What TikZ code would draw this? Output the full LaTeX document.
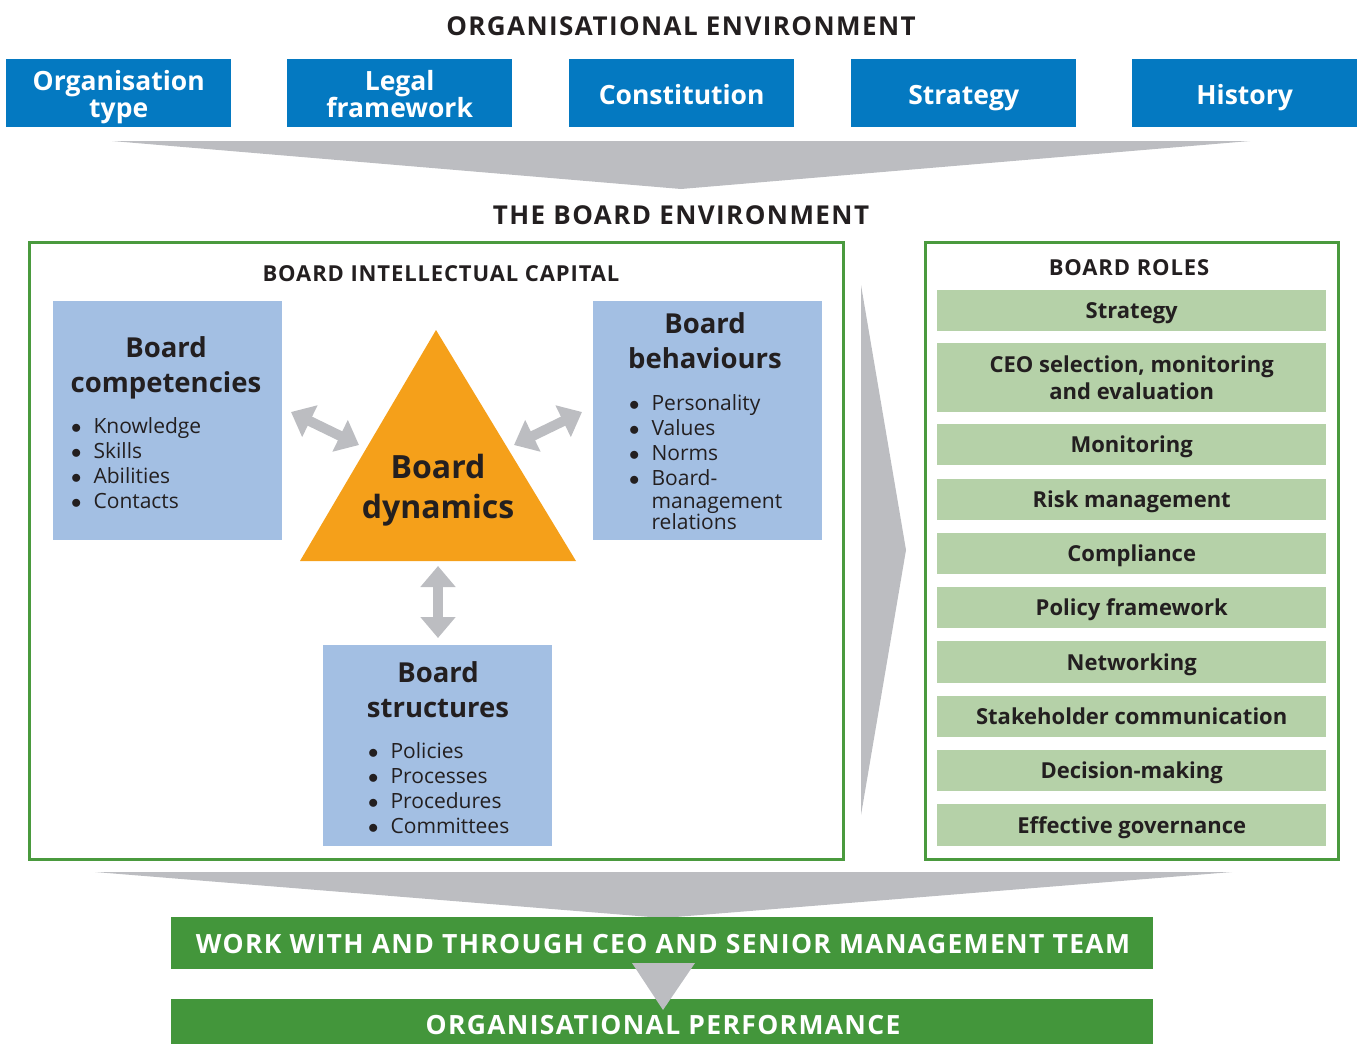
\documentclass[tikz,border=0pt]{standalone}
\usepackage{fontspec}
\setmainfont{Open Sans}
\usetikzlibrary{arrows.meta}
\definecolor{orgblue}{HTML}{0479C1}
\definecolor{lblue}{HTML}{A3BFE3}
\definecolor{bgreen}{HTML}{4A9A3E}
\definecolor{lgreen}{HTML}{B5D1A8}
\definecolor{dgreen}{HTML}{43963B}
\definecolor{agrey}{HTML}{BCBDC1}
\definecolor{dorange}{HTML}{F5A01A}
\definecolor{ink}{HTML}{231F20}
\tikzset{
  envtitle/.style={text=ink, font=\bfseries\fontsize{26}{28}\selectfont\addfontfeature{LetterSpace=5.5}, inner sep=0},
  subtitle/.style={text=ink, font=\bfseries\fontsize{22}{24}\selectfont\addfontfeature{LetterSpace=4}, inner sep=0},
  orgbox/.style={fill=orgblue, text=white, minimum width=225pt, minimum height=68pt, inner sep=0, text height=23pt, text depth=0pt, align=center, font=\bfseries\fontsize{26.5}{27}\selectfont, anchor=north west},
  twolines/.style={text height=49pt},
  capbox/.style={fill=lblue, anchor=north west, inner sep=0},
  captitle/.style={text=ink, font=\bfseries\fontsize{27.5}{35}\selectfont, align=center, inner sep=0},
  bullets/.style={text=ink, font=\fontsize{21}{25}\selectfont, align=left, inner sep=0, anchor=north west},
  rolebox/.style={fill=lgreen, text=ink, minimum width=389pt, inner sep=0, text height=18pt, text depth=1.5pt, align=center, font=\bfseries\fontsize{22}{27}\selectfont, anchor=north west},
  frame/.style={draw=bgreen, line width=3pt},
  bigarrow/.style={fill=agrey},
  dblarrow/.style={draw=agrey, line width=10pt, {Triangle[length=21pt,width=34pt]}-{Triangle[length=21pt,width=34pt]}},
  gbar/.style={fill=dgreen, inner sep=0, minimum width=982pt, anchor=north west},
  gbartext/.style={text=white, inner sep=0, font=\bfseries\fontsize{26.5}{28}\selectfont\addfontfeature{LetterSpace=5}},
}
\newcommand{\blist}[1]{\begin{tabular}{@{}l@{\hspace{12pt}}l@{}}#1\end{tabular}}
\newcommand{\bb}{$\bullet$}
\begin{document}
\begin{tikzpicture}[x=1pt,y=-1pt]
\useasboundingbox (0,0) rectangle (1357,1044);
% top
\node[envtitle] (orgenv) at (681,26) {ORGANISATIONAL ENVIRONMENT};
\node[orgbox, twolines] (ot) at (6,59) {Organisation\\type};
\node[orgbox, twolines] (lf) at (287,59) {Legal\\framework};
\node[orgbox] (co) at (569,59) {Constitution};
\node[orgbox] (st) at (851,59) {Strategy};
\node[orgbox] (hi) at (1132,59) {History};
\fill[bigarrow] (112,141) -- (1250,141) -- (681,189) -- cycle;
\node[envtitle] (boardenv) at (681,215) {THE BOARD ENVIRONMENT};
% left frame
\draw[frame] (29,242) rectangle (843,859);
\node[subtitle] (bic) at (441,274) {BOARD INTELLECTUAL CAPITAL};
% capital boxes
\node[capbox, minimum width=229pt, minimum height=239pt] (comp) at (53,301) {};
\node[captitle] (compt) at (166,368) {Board\\competencies};
\node[bullets] (compl) at (71,416) {\blist{\bb & Knowledge\\ \bb & Skills\\ \bb & Abilities\\ \bb & Contacts}};
\node[capbox, minimum width=229pt, minimum height=239pt] (beh) at (593,301) {};
\node[captitle] (beht) at (705,341) {Board\\behaviours};
\node[bullets] (behl) at (629,393) {\blist{\bb & Personality\\ \bb & Values\\ \bb & Norms\\ \bb & Board-\\[-2pt] & management\\[-4pt] & relations}};
\node[capbox, minimum width=229pt, minimum height=201pt] (str) at (323,645) {};
\node[captitle] (strt) at (438,690) {Board\\structures};
\node[bullets] (strl) at (368,741) {\blist{\bb & Policies\\ \bb & Processes\\ \bb & Procedures\\ \bb & Committees}};
% triangle
\fill[dorange] (436,330) -- (576,561) -- (300,561) -- cycle;
\node[captitle, font=\bfseries\fontsize{32}{40}\selectfont] (dyn) at (438,490) {Board\\dynamics};
% double arrows
\coordinate (la1) at (291,412);
\coordinate (la2) at (359,445);
\coordinate (ra1) at (514,445);
\coordinate (ra2) at (582,412);
\coordinate (va1) at (438,566);
\coordinate (va2) at (438,638);
\draw[dblarrow] (la1) -- (la2);
\draw[dblarrow] (ra1) -- (ra2);
\draw[dblarrow] (va1) -- (va2);
% right big arrow
\fill[bigarrow] (861,285) -- (906,550) -- (861,815) -- cycle;
% right frame
\draw[frame] (925,242) rectangle (1338,859);
\node[subtitle] (roles) at (1129,268) {BOARD ROLES};
\node[rolebox, minimum height=41pt] (r1) at (937,290) {Strategy};
\node[rolebox, minimum height=69pt, text height=45pt] (r2) at (937,343) {CEO selection, monitoring\\and evaluation};
\node[rolebox, minimum height=41pt] (r3) at (937,424) {Monitoring};
\node[rolebox, minimum height=41pt] (r4) at (937,479) {Risk management};
\node[rolebox, minimum height=41pt] (r5) at (937,533) {Compliance};
\node[rolebox, minimum height=41pt] (r6) at (937,587) {Policy framework};
\node[rolebox, minimum height=42pt] (r7) at (937,641) {Networking};
\node[rolebox, minimum height=41pt] (r8) at (937,696) {Stakeholder communication};
\node[rolebox, minimum height=41pt] (r9) at (937,750) {Decision-making};
\node[rolebox, minimum height=42pt] (r10) at (937,804) {Effective governance};
% bottom
\fill[bigarrow] (95,872) -- (1232,872) -- (663,918) -- cycle;
\node[gbar, minimum height=52pt] (work) at (171,917) {};
\node[gbartext] (workt) at (663,944) {WORK WITH AND THROUGH CEO AND SENIOR MANAGEMENT TEAM};
\node[gbar, minimum height=45pt] (perf) at (171,999) {};
\fill[bigarrow] (632,963) -- (695,963) -- (663,1010) -- cycle;
\node[gbartext] (perft) at (663,1025) {ORGANISATIONAL PERFORMANCE};
\end{tikzpicture}
\end{document}
